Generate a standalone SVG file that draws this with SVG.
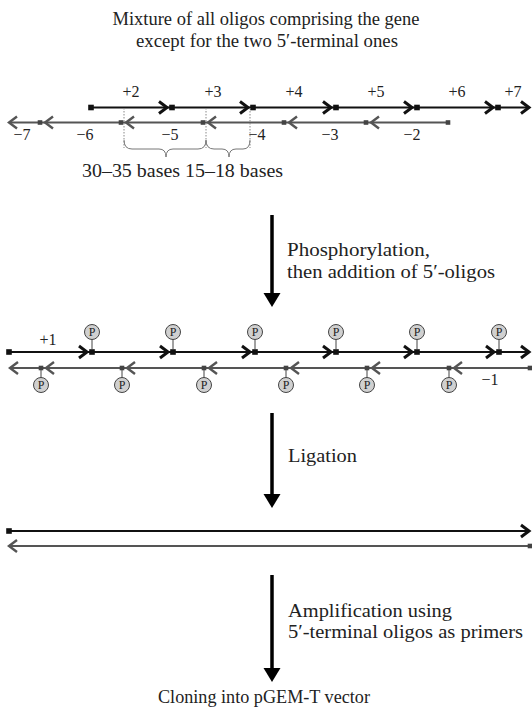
<svg xmlns="http://www.w3.org/2000/svg" width="532" height="707" viewBox="0 0 532 707">
<style>
text{font-family:"Liberation Serif","Times New Roman",serif;fill:#222}
.t{font-size:18px}
.l{font-size:16px}
.pl{font-size:12px;text-anchor:middle}
.fw{fill:none;stroke:#111;stroke-width:2.2}
.rv{fill:none;stroke:#555;stroke-width:2}
.chf{fill:none;stroke:#111;stroke-width:3;stroke-linejoin:miter}
.chr{fill:none;stroke:#555;stroke-width:2.4}
.sqf{fill:#111}
.sqr{fill:#444}
.pc{fill:#d0d0d0;stroke:#444;stroke-width:1}
.stem{stroke:#444;stroke-width:1}
.dot{stroke:#888;stroke-width:1;stroke-dasharray:1.5 1.5}
.br{fill:none;stroke:#777;stroke-width:1}
.big{stroke:#000;stroke-width:3.5}
</style>
<defs>
<path id="cf" d="M-8,-6 L0,0 L-8,6"/>
<path id="cr" d="M8,-6 L0,0 L8,6"/>
<rect id="sf" x="-2.8" y="-2.8" width="5.6" height="5.6"/>
<rect id="sr" x="-2.3" y="-2.3" width="4.6" height="4.6"/>
<g id="pu"><line class="stem" x1="0" y1="0" x2="0" y2="-10"/><circle class="pc" cx="0" cy="-17" r="7.5"/><text class="pl" x="0" y="-13">P</text></g>
<g id="pd"><line class="stem" x1="0" y1="0" x2="0" y2="8"/><circle class="pc" cx="0" cy="15" r="7.5"/><text class="pl" x="0" y="19">P</text></g>
</defs>

<g id="title">
<text class="t" x="266" y="25" text-anchor="middle" textLength="307" lengthAdjust="spacingAndGlyphs">Mixture of all oligos comprising the gene</text>
<text class="t" x="267" y="47" text-anchor="middle" textLength="262" lengthAdjust="spacingAndGlyphs">except for the two 5′-terminal ones</text>
</g>

<g id="mixture">
<line class="fw" x1="91" y1="107.5" x2="529" y2="107.5"/>
<g class="chf">
<use href="#cf" x="167" y="107.5"/><use href="#cf" x="248" y="107.5"/><use href="#cf" x="331" y="107.5"/><use href="#cf" x="412" y="107.5"/><use href="#cf" x="493" y="107.5"/><use href="#cf" x="529" y="107.5"/>
</g>
<g class="sqf">
<use href="#sf" x="91" y="107.5"/><use href="#sf" x="172" y="107.5"/><use href="#sf" x="253" y="107.5"/><use href="#sf" x="336" y="107.5"/><use href="#sf" x="417" y="107.5"/><use href="#sf" x="498" y="107.5"/>
</g>
<line class="rv" x1="9" y1="122.5" x2="448" y2="122.5"/>
<g class="chr">
<use href="#cr" x="9" y="122.5"/><use href="#cr" x="45" y="122.5"/><use href="#cr" x="126" y="122.5"/><use href="#cr" x="208" y="122.5"/><use href="#cr" x="289" y="122.5"/><use href="#cr" x="371" y="122.5"/>
</g>
<g class="sqr">
<use href="#sr" x="40" y="122.5"/><use href="#sr" x="121" y="122.5"/><use href="#sr" x="203" y="122.5"/><use href="#sr" x="284" y="122.5"/><use href="#sr" x="366" y="122.5"/><use href="#sr" x="448" y="122.5"/>
</g>
<g class="l" text-anchor="middle">
<text x="131" y="97">+2</text><text x="213" y="97">+3</text><text x="294" y="97">+4</text><text x="376" y="97">+5</text><text x="457" y="97">+6</text><text x="513" y="97">+7</text>
<text x="22" y="140">−7</text><text x="85" y="140">−6</text><text x="170" y="140">−5</text><text x="257" y="140">−4</text><text x="330" y="140">−3</text><text x="412" y="140">−2</text>
</g>
<line class="dot" x1="124" y1="108" x2="124" y2="148"/>
<line class="dot" x1="206" y1="108" x2="206" y2="148"/>
<line class="dot" x1="250" y1="108" x2="250" y2="148"/>
<path class="br" d="M124,140 Q124,149 132,149 L159,149 Q166,149 166,157 Q166,149 173,149 L198,149 Q206,149 206,140"/>
<path class="br" d="M206,140 Q206,149 214,149 L222,149 Q229,149 229,157 Q229,149 236,149 L243,149 Q250,149 250,140"/>
<text class="t" x="82" y="177" textLength="201" lengthAdjust="spacingAndGlyphs">30–35  bases 15–18 bases</text>
</g>

<g id="step1">
<line class="big" x1="272" y1="215" x2="272" y2="295"/>
<path d="M263.5,293 L280.5,293 L272,307 Z" fill="#000"/>
<text class="t" x="287" y="256" textLength="143" lengthAdjust="spacingAndGlyphs">Phosphorylation,</text>
<text class="t" x="287" y="278" textLength="208" lengthAdjust="spacingAndGlyphs">then addition of 5′-oligos</text>
</g>

<g id="annealed">
<line class="fw" x1="9" y1="352" x2="529" y2="352"/>
<g class="chf">
<use href="#cf" x="87" y="352"/><use href="#cf" x="168" y="352"/><use href="#cf" x="250" y="352"/><use href="#cf" x="331" y="352"/><use href="#cf" x="412" y="352"/><use href="#cf" x="494" y="352"/><use href="#cf" x="529" y="352"/>
</g>
<g class="sqf">
<use href="#sf" x="9" y="352"/><use href="#sf" x="92" y="352"/><use href="#sf" x="173" y="352"/><use href="#sf" x="255" y="352"/><use href="#sf" x="336" y="352"/><use href="#sf" x="417" y="352"/><use href="#sf" x="499" y="352"/>
</g>
<use href="#pu" x="92" y="349"/><use href="#pu" x="173" y="349"/><use href="#pu" x="255" y="349"/><use href="#pu" x="336" y="349"/><use href="#pu" x="417" y="349"/><use href="#pu" x="499" y="349"/>
<line class="rv" x1="10" y1="368" x2="530" y2="368"/>
<g class="chr">
<use href="#cr" x="10" y="368"/><use href="#cr" x="46" y="368"/><use href="#cr" x="127" y="368"/><use href="#cr" x="209" y="368"/><use href="#cr" x="291" y="368"/><use href="#cr" x="372" y="368"/><use href="#cr" x="454" y="368"/>
</g>
<g class="sqr">
<use href="#sr" x="41" y="368"/><use href="#sr" x="122" y="368"/><use href="#sr" x="204" y="368"/><use href="#sr" x="286" y="368"/><use href="#sr" x="367" y="368"/><use href="#sr" x="449" y="368"/><use href="#sr" x="530" y="368"/>
</g>
<use href="#pd" x="41" y="370"/><use href="#pd" x="122" y="370"/><use href="#pd" x="204" y="370"/><use href="#pd" x="286" y="370"/><use href="#pd" x="367" y="370"/><use href="#pd" x="449" y="370"/>
<text class="l" x="48" y="345" text-anchor="middle">+1</text>
<text class="l" x="490" y="385" text-anchor="middle">−1</text>
</g>

<g id="step2">
<line class="big" x1="272" y1="413" x2="272" y2="496"/>
<path d="M263.5,494 L280.5,494 L272,508 Z" fill="#000"/>
<text class="t" x="288" y="462" textLength="69" lengthAdjust="spacingAndGlyphs">Ligation</text>
</g>

<g id="ligated">
<line class="fw" x1="9" y1="531" x2="529" y2="531"/>
<use class="chf" href="#cf" x="529" y="531"/>
<use class="sqf" href="#sf" x="9" y="531"/>
<line class="rv" x1="9" y1="546" x2="530" y2="546"/>
<use class="chr" href="#cr" x="9" y="546"/>
<use class="sqr" href="#sr" x="530" y="546"/>
</g>

<g id="step3">
<line class="big" x1="272" y1="575" x2="272" y2="670"/>
<path d="M263.5,668 L280.5,668 L272,682 Z" fill="#000"/>
<text class="t" x="288" y="617" textLength="164" lengthAdjust="spacingAndGlyphs">Amplification using</text>
<text class="t" x="288" y="638" textLength="235" lengthAdjust="spacingAndGlyphs">5′-terminal oligos as primers</text>
</g>

<g id="result">
<text class="t" x="264" y="703" text-anchor="middle" textLength="212" lengthAdjust="spacingAndGlyphs">Cloning into pGEM-T vector</text>
</g>
</svg>
